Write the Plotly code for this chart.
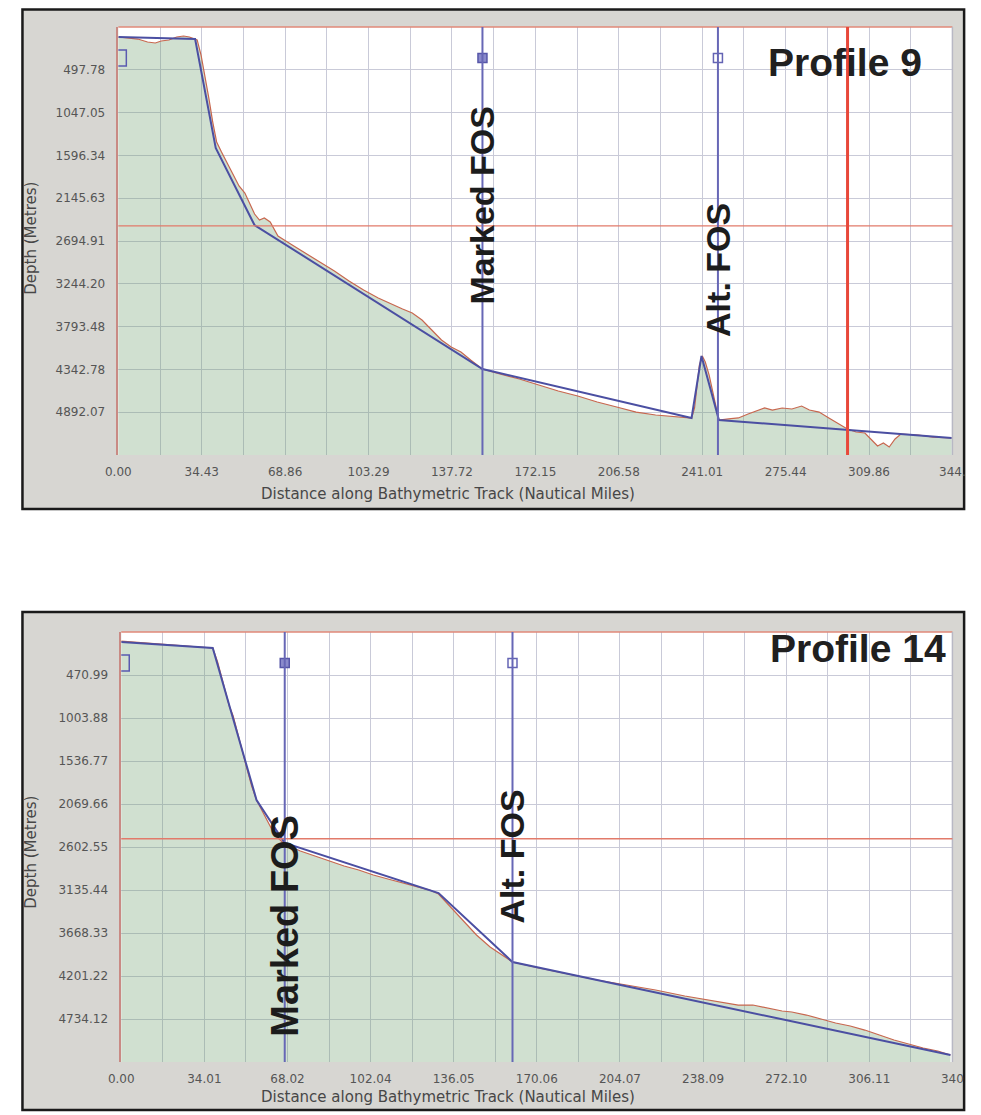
import plotly.graph_objects as go

# ---------------- Profile 9 (top) ----------------
p9_track_nm = [0, 4.02, 8.04, 12.05, 15.27, 17.68, 20.89, 24.10, 26.92, 29.33, 31.74,
               32.54, 34.15, 35.76, 37.36, 38.97, 40.58, 42.59, 45.00, 47.41, 49.82, 52.23,
               54.24, 56.25, 58.26, 60.27, 62.68, 65.89, 71.11, 77.14, 83.16, 89.19, 95.22,
               101.25, 107.27, 113.30, 117.32, 121.33, 125.35, 129.37, 133.39, 137.40, 141.42,
               145.44, 150.26, 157.49, 165.53, 173.56, 181.60, 189.63, 197.67, 205.70, 213.74,
               221.78, 229.81, 236.64, 237.85, 239.86, 241.06, 242.27, 243.87, 245.88, 247.89,
               251.91, 255.93, 259.94, 263.96, 266.77, 269.99, 274.01, 278.02, 282.04, 285.26,
               289.27, 293.29, 297.31, 300.92, 304.54, 308.16, 310.97, 313.38, 315.79, 318.20,
               320.61, 323.02, 330.25, 336.28, 344.0]
p9_depth_m = [77, 90, 103, 141, 154, 128, 115, 77, 64, 77, 103,
              115, 308, 565, 860, 1168, 1424, 1553, 1694, 1848, 1989, 2079,
              2207, 2349, 2426, 2400, 2451, 2631, 2734, 2849, 2965, 3080, 3208,
              3324, 3427, 3516, 3568, 3619, 3709, 3837, 3966, 4055, 4120,
              4222, 4338, 4402, 4466, 4543, 4620, 4684, 4761, 4825, 4890,
              4928, 4954, 4967, 4838, 4286, 4171, 4248, 4415, 4710, 4992,
              4979, 4966, 4915, 4864, 4838, 4864, 4838, 4851, 4813, 4864,
              4890, 4967, 5044, 5108, 5146, 5159, 5249, 5326, 5288, 5339,
              5236, 5172, 5185, 5211, 5223]
p9_fit_nm = [0, 31.7, 40.2, 56.2, 150.3, 236.6, 240.7, 247.9, 344.0]
p9_fit_m = [77, 102, 1501, 2490, 4338, 4967, 4171, 4992, 5223]
p9_x_tick_vals = [0, 34.43, 68.86, 103.29, 137.72, 172.15, 206.58, 241.01, 275.44, 309.86, 344.29]
p9_x_tick_labels = ['0.00', '34.43', '68.86', '103.29', '137.72', '172.15', '206.58',
                    '241.01', '275.44', '309.86', '344.']
p9_y_tick_labels = ['497.78', '1047.05', '1596.34', '2145.63', '2694.91', '3244.20',
                    '3793.48', '4342.78', '4892.07']
p9_y_range = [5441.36, -51.51]
p9_marked_fos = 150.3
p9_alt_fos = 247.5
p9_red_cut_nm = 301.0
p9_isobath_m = 2500
p9_marker_m = 346

# ---------------- Profile 14 (bottom) ----------------
p14_track_nm = [0, 5.58, 11.55, 17.52, 23.50, 29.47, 34.65, 37.44, 39.43, 41.42, 43.01,
                44.21, 45.80, 47.39, 49.38, 51.37, 53.37, 55.36, 58.54, 61.33, 64.12, 66.91,
                73.28, 79.25, 85.22, 91.20, 97.17, 103.15, 109.12, 115.09, 121.07, 126.24,
                129.83, 135.01, 140.18, 145.36, 150.94, 156.11, 160.10, 170.85, 182.80,
                194.74, 206.69, 218.64, 230.59, 242.53, 252.49, 258.46, 264.44, 270.41,
                274.39, 280.37, 286.34, 292.31, 298.29, 304.26, 310.23, 316.21, 322.18,
                328.16, 334.13, 339.31]
p14_depth_m = [50, 62, 74, 87, 99, 112, 124, 136, 310, 533, 744,
               855, 979, 1153, 1401, 1624, 1847, 2020, 2206, 2367, 2491, 2565,
               2652, 2714, 2776, 2838, 2888, 2950, 2999, 3049, 3098, 3136,
               3185, 3359, 3532, 3693, 3842, 3953, 4028, 4102, 4177,
               4251, 4313, 4375, 4449, 4511, 4561, 4561, 4598, 4635,
               4647, 4685, 4734, 4784, 4821, 4871, 4933, 4995, 5044,
               5094, 5131, 5180]
p14_fit_nm = [0, 37.44, 55.36, 66.91, 129.83, 160.10, 339.31]
p14_fit_m = [62, 136, 2020, 2553, 3173, 4028, 5180]
p14_x_tick_vals = [0, 34.01, 68.02, 102.04, 136.05, 170.06, 204.07, 238.09, 272.10, 306.11, 340.12]
p14_x_tick_labels = ['0.00', '34.01', '68.02', '102.04', '136.05', '170.06', '204.07',
                     '238.09', '272.10', '306.11', '340']
p14_y_tick_labels = ['470.99', '1003.88', '1536.77', '2069.66', '2602.55', '3135.44',
                     '3668.33', '4201.22', '4734.12']
p14_y_range = [5266.99, -61.90]
p14_marked_fos = 66.9
p14_alt_fos = 160.1
p14_isobath_m = 2500
p14_marker_m = 322

# ---------------- styles ----------------
OFF = 8                      # page body margin
W, H = 981 - OFF, 1115 - OFF
PANEL_BG = '#d7d6d2'
GRID = '#c9cad8'
FILL = 'rgba(110,160,110,0.32)'
BATHY = '#c8674f'
FIT = '#4b4fa2'
FOS = '#6767b6'
ISO = '#e27a6a'
CUT = '#e8483a'
TICKFONT = dict(family='DejaVu Sans', size=12, color='#555555')
TITLEFONT = dict(family='DejaVu Sans', size=15, color='#474747')
BIG = 'Liberation Sans'


def px_x(p):
    return (p - OFF) / W


def px_y(p):
    return 1 - (p - OFF) / H


def mids(vals):
    return [(a + b) / 2 for a, b in zip(vals[:-1], vals[1:])]


fig = go.Figure()

panels = [
    dict(xa='x', ya='y', xd=[108, 965], yd=[27, 455], box=[9.5, 9.5, 977, 509],
         track=p9_track_nm, depth=p9_depth_m, fitx=p9_fit_nm, fity=p9_fit_m,
         xt=p9_x_tick_vals, xl=p9_x_tick_labels, yl=p9_y_tick_labels, yr=p9_y_range,
         marked=p9_marked_fos, alt=p9_alt_fos, iso=p9_isobath_m, mk=p9_marker_m,
         cut=p9_red_cut_nm, title='Profile 9', title_xy=(855, 63),
         marked_y=205, marked_size=34, alt_y=270, ytitle_y=238, xtitle_y=494),
    dict(xa='x2', ya='y2', xd=[111, 965], yd=[632, 1062], box=[9.5, 612, 977, 1110],
         track=p14_track_nm, depth=p14_depth_m, fitx=p14_fit_nm, fity=p14_fit_m,
         xt=p14_x_tick_vals, xl=p14_x_tick_labels, yl=p14_y_tick_labels, yr=p14_y_range,
         marked=p14_marked_fos, alt=p14_alt_fos, iso=p14_isobath_m, mk=p14_marker_m,
         cut=None, title='Profile 14', title_xy=(868, 648),
         marked_y=926, marked_size=38, alt_y=856, ytitle_y=852, xtitle_y=1097),
]

shapes = []
annotations = []

for P in panels:
    xa, ya = P['xa'], P['ya']
    bx0, by0, bx1, by1 = P['box']
    shapes.append(dict(type='rect', xref='paper', yref='paper', layer='below',
                       x0=px_x(bx0), x1=px_x(bx1), y0=px_y(by1), y1=px_y(by0),
                       fillcolor=PANEL_BG, line=dict(color='#1a1a1a', width=2.5)))
    shapes.append(dict(type='rect', xref='paper', yref='paper', layer='below',
                       x0=px_x(P['xd'][0]), x1=px_x(P['xd'][1]),
                       y0=px_y(P['yd'][1]), y1=px_y(P['yd'][0]),
                       fillcolor='white', line=dict(width=0)))

    fig.add_trace(go.Scatter(x=P['track'], y=[P['yr'][0]] * len(P['track']),
                             mode='lines', line=dict(width=0, color='rgba(0,0,0,0)'),
                             xaxis=xa, yaxis=ya, showlegend=False, hoverinfo='skip'))
    fig.add_trace(go.Scatter(x=P['track'], y=P['depth'], mode='lines', fill='tonexty',
                             fillcolor=FILL, line=dict(color=BATHY, width=1.2),
                             xaxis=xa, yaxis=ya, showlegend=False))
    fig.add_trace(go.Scatter(x=P['fitx'], y=P['fity'], mode='lines',
                             line=dict(color=FIT, width=2),
                             xaxis=xa, yaxis=ya, showlegend=False))

    xdom = 'x domain' if xa == 'x' else 'x2 domain'
    ydom = 'y domain' if ya == 'y' else 'y2 domain'
    shapes.append(dict(type='line', xref=xdom, yref=ydom, x0=0, x1=1, y0=1, y1=1,
                       line=dict(color='#e08878', width=1.3)))
    shapes.append(dict(type='line', xref=xdom, yref=ydom, x0=1, x1=1, y0=0, y1=1,
                       line=dict(color='#b8b8c4', width=1.5)))
    shapes.append(dict(type='line', xref=xdom, yref=ya, x0=0, x1=1, y0=P['iso'], y1=P['iso'],
                       line=dict(color=ISO, width=1.3)))
    for fx in (P['marked'], P['alt']):
        shapes.append(dict(type='line', xref=xa, yref=ydom, x0=fx, x1=fx, y0=0, y1=1,
                           line=dict(color=FOS, width=2)))
    if P['cut'] is not None:
        shapes.append(dict(type='line', xref=xa, yref=ydom, x0=P['cut'], x1=P['cut'],
                           y0=0, y1=1, line=dict(color=CUT, width=3)))

    fig.add_trace(go.Scatter(x=[P['marked']], y=[P['mk']], mode='markers',
                             marker=dict(symbol='square', size=9, color='#8a8acb',
                                         line=dict(color='#5656a8', width=1.5)),
                             xaxis=xa, yaxis=ya, showlegend=False))
    fig.add_trace(go.Scatter(x=[P['alt']], y=[P['mk']], mode='markers',
                             marker=dict(symbol='square-open', size=9, color='#6464b4',
                                         line=dict(width=1.5)),
                             xaxis=xa, yaxis=ya, showlegend=False))
    fig.add_trace(go.Scatter(x=[P['xt'][0]], y=[P['mk']], mode='markers',
                             marker=dict(symbol='square-open', size=16, color='#5a5ab0',
                                         line=dict(width=1.5)),
                             xaxis=xa, yaxis=ya, showlegend=False))

    tx, ty = P['title_xy']
    annotations.append(dict(text='<b>%s</b>' % P['title'], xref='paper', yref='paper',
                            x=px_x(tx), y=px_y(ty), xanchor='center', yanchor='middle',
                            showarrow=False,
                            font=dict(family=BIG, size=39, color='#202020')))
    annotations.append(dict(text='<b>Marked FOS</b>', xref=xa, yref='paper',
                            x=P['marked'], y=px_y(P['marked_y']), textangle=-90,
                            xanchor='center', yanchor='middle', showarrow=False,
                            font=dict(family=BIG, size=P['marked_size'], color='#1c1c1c')))
    annotations.append(dict(text='<b>Alt. FOS</b>', xref=xa, yref='paper',
                            x=P['alt'], y=px_y(P['alt_y']), textangle=-90,
                            xanchor='center', yanchor='middle', showarrow=False,
                            font=dict(family=BIG, size=34, color='#1c1c1c')))
    annotations.append(dict(text='Depth (Metres)', xref='paper', yref='paper',
                            x=px_x(18), y=px_y(P['ytitle_y']), textangle=-90,
                            xanchor='center', yanchor='middle',
                            showarrow=False, font=TITLEFONT))
    annotations.append(dict(text='Distance along Bathymetric Track (Nautical Miles)',
                            xref='paper', yref='paper', x=px_x(447), y=px_y(P['xtitle_y']),
                            xanchor='center', yanchor='middle',
                            showarrow=False, font=TITLEFONT))

    yvals = [float(s) for s in P['yl']]
    xkey = 'xaxis' if xa == 'x' else 'xaxis2'
    ykey = 'yaxis' if ya == 'y' else 'yaxis2'
    fig.layout[xkey] = dict(
        domain=[px_x(P['xd'][0]), px_x(P['xd'][1])], anchor=ya,
        range=[P['xt'][0], P['xt'][-1]], tickmode='array', tickvals=P['xt'], ticktext=P['xl'],
        showgrid=True, gridcolor=GRID, gridwidth=1, zeroline=False, ticks='',
        ticklabelstandoff=8, tickfont=TICKFONT, showline=False,
        minor=dict(tickvals=mids(P['xt']), showgrid=True, gridcolor=GRID, gridwidth=1, ticks=''),
        fixedrange=True)
    fig.layout[ykey] = dict(
        domain=[px_y(P['yd'][1]), px_y(P['yd'][0])], anchor=xa,
        range=P['yr'], tickmode='array', tickvals=yvals, ticktext=P['yl'],
        showgrid=True, gridcolor=GRID, gridwidth=1, zeroline=False, ticks='',
        ticklabelstandoff=9, tickfont=TICKFONT,
        showline=True, linecolor='#c98a84', linewidth=1.5, fixedrange=True)

fig.update_layout(width=W, height=H, margin=dict(l=0, r=0, t=0, b=0),
                  paper_bgcolor='white', plot_bgcolor='white',
                  shapes=shapes, annotations=annotations, showlegend=False)

fig.write_html('out.html')
